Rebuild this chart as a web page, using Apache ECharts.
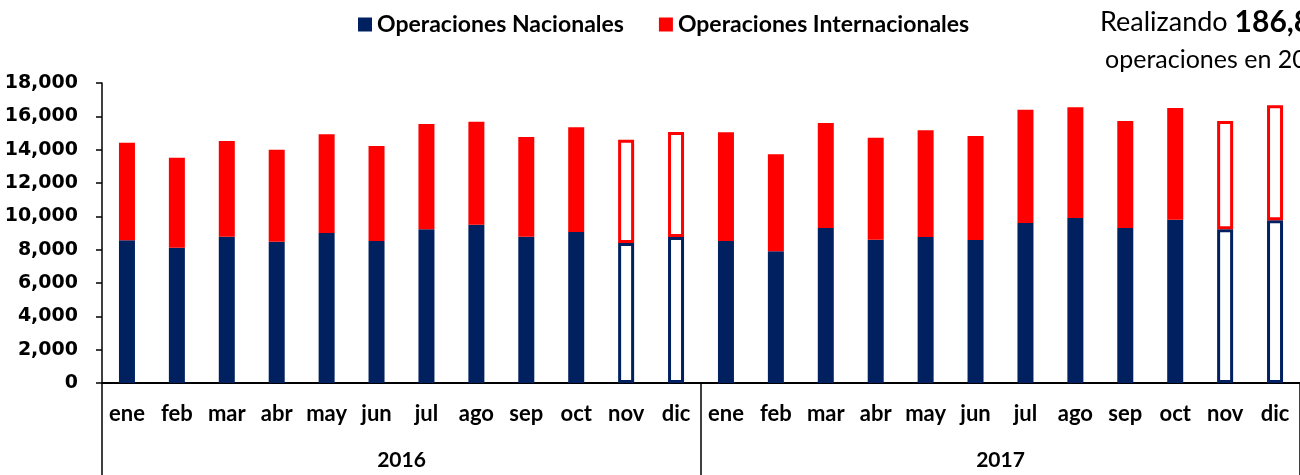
<!DOCTYPE html>
<html>
<head>
<meta charset="utf-8">
<script src="https://cdn.jsdelivr.net/npm/echarts@6/dist/echarts.min.js"></script>
<style>
html,body{margin:0;padding:0;background:#fff;}
#c{width:1300px;height:475px;}
</style>
</head>
<body>
<div id="c"></div>
<script>
const years = ['2016', '2017'];
const months = ['ene','feb','mar','abr','may','jun','jul','ago','sep','oct','nov','dic'];
const estimatedMonths = ['nov','dic'];
const nacionales2016 = [8560, 8120, 8780, 8480, 9000, 8520, 9220, 9500, 8780, 9060, 8400, 8760];
const internacionales2016 = [5860, 5400, 5740, 5520, 5920, 5700, 6320, 6180, 5980, 6280, 6200, 6300];
const nacionales2017 = [8520, 7900, 9300, 8600, 8760, 8580, 9600, 9900, 9300, 9800, 9220, 9760];
const internacionales2017 = [6520, 5820, 6300, 6120, 6400, 6240, 6800, 6640, 6420, 6700, 6500, 6900];
const yTicks = [0, 2000, 4000, 6000, 8000, 10000, 12000, 14000, 16000, 18000];
const seriesNames = ['Operaciones Nacionales', 'Operaciones Internacionales'];

const NAVY = '#002060', RED = '#FF0000';
const categories = [];
years.forEach(y => months.forEach(m => categories.push(m + '|' + y)));
const nac = nacionales2016.concat(nacionales2017);
const intl = internacionales2016.concat(internacionales2017);

function styled(values, color) {
  return values.map((v, i) => {
    const m = months[i % 12];
    if (estimatedMonths.indexOf(m) >= 0) {
      return { value: v, itemStyle: { color: '#ffffff', borderColor: color, borderWidth: 3 } };
    }
    return { value: v };
  });
}

const chart = echarts.init(document.getElementById('c'), null, { renderer: 'canvas' });
chart.setOption({
  animation: false,
  backgroundColor: '#ffffff',
  legend: {
    top: 8, left: 353,
    itemWidth: 14, itemHeight: 14, itemGap: 35,
    icon: 'rect',
    textStyle: { fontFamily: 'Lato', fontWeight: 'bold', fontSize: 23, color: '#000' },
    data: seriesNames
  },
  grid: { left: 102, top: 83, width: 1199, height: 300, containLabel: false },
  xAxis: [
    {
      type: 'category', data: categories, position: 'bottom',
      axisLine: { show: true, onZero: false, lineStyle: { color: '#000', width: 2 } },
      axisTick: { show: false },
      axisLabel: {
        interval: 0, margin: 20,
        fontFamily: 'Lato', fontWeight: 'bold', fontSize: 22, color: '#000',
        formatter: v => v.split('|')[0]
      }
    },
    {
      type: 'category', data: years, position: 'bottom', gridIndex: 0,
      axisLine: { show: false },
      axisTick: { show: true, length: 92, lineStyle: { color: '#000', width: 1.5 } },
      axisLabel: {
        interval: 0, margin: 67,
        fontFamily: 'Lato', fontWeight: 'bold', fontSize: 21, color: '#000'
      }
    }
  ],
  yAxis: {
    type: 'value', min: yTicks[0], max: yTicks[yTicks.length - 1], interval: 2000,
    axisLine: { show: true, lineStyle: { color: '#000', width: 1.5 } },
    axisTick: { show: true, length: 6, lineStyle: { color: '#000', width: 1.5 } },
    splitLine: { show: false },
    axisLabel: {
      margin: 24,
      fontFamily: 'DejaVu Sans', fontWeight: 'bold', fontSize: 19, color: '#000',
      formatter: v => v.toLocaleString('en-US')
    }
  },
  series: [
    {
      name: seriesNames[0], type: 'bar', stack: 'ops', xAxisIndex: 0,
      barWidth: 16, itemStyle: { color: NAVY },
      data: styled(nac, NAVY)
    },
    {
      name: seriesNames[1], type: 'bar', stack: 'ops', xAxisIndex: 0,
      barWidth: 16, itemStyle: { color: RED },
      data: styled(intl, RED)
    }
  ],
  graphic: [
    {
      type: 'text', left: 1100, top: 7,
      style: {
        text: 'Realizando {b|186,8}',
        font: '27px Lato', fill: '#000',
        rich: { b: { fontFamily: 'Lato', fontWeight: 'bold', fontSize: 30, fill: '#000' } }
      }
    },
    {
      type: 'text', left: 1105, top: 47,
      style: { text: 'operaciones en 2017', font: '25px Lato', fill: '#000' }
    }
  ]
});
</script>
</body>
</html>
